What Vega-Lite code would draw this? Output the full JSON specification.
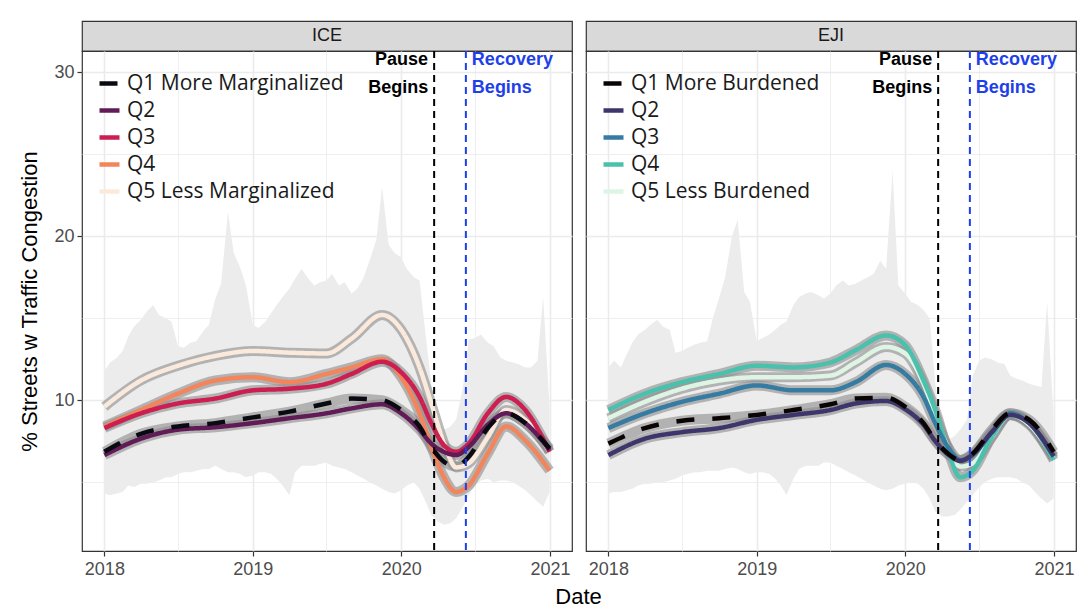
{
"$schema": "https://vega.github.io/schema/vega-lite/v6.json",
"background": "white",
"padding": {"left": 18, "top": 20, "right": 8, "bottom": 4},
"config": {
  "font": "Liberation Sans",
  "view": {"stroke": "#333333", "strokeWidth": 1.2},
  "axis": {"gridColor": "#ebebeb", "domain": false, "tickColor": "#333333", "tickSize": 5, "tickWidth": 1.2, "labelColor": "#4d4d4d", "labelFontSize": 18, "labelFont": "Liberation Sans", "titleFont": "Liberation Sans", "titleFontSize": 22, "titleFontWeight": "normal", "titleColor": "#000000"},
  "legend": {"labelLimit": 400},
  "title": {"font": "Liberation Sans", "fontSize": 22, "fontWeight": "normal", "color": "#000000"}
},
"title": {"text": "Date", "orient": "bottom", "anchor": "middle", "offset": 8, "dx": 31},
"datasets": {
  "events": [{"d": "2020-03-22", "k": "pause"}, {"d": "2020-06-08", "k": "rec"}],
  "labels": [
    {"d": "2020-03-22", "k": "pause", "t": "Pause", "v": 30.75},
    {"d": "2020-03-22", "k": "pause", "t": "Begins", "v": 29.05},
    {"d": "2020-06-08", "k": "rec", "t": "Recovery", "v": 30.75},
    {"d": "2020-06-08", "k": "rec", "t": "Begins", "v": 29.05}
  ],
  "curves": [
    {"p":"ICE","q":"Q5","d":"2018-01-01","v":9.6},{"p":"ICE","q":"Q5","d":"2018-04-01","v":11.2},{"p":"ICE","q":"Q5","d":"2018-07-01","v":12.1},{"p":"ICE","q":"Q5","d":"2018-10-01","v":12.7},{"p":"ICE","q":"Q5","d":"2019-01-01","v":13.0},{"p":"ICE","q":"Q5","d":"2019-04-01","v":12.9},{"p":"ICE","q":"Q5","d":"2019-07-01","v":12.85},{"p":"ICE","q":"Q5","d":"2019-09-01","v":13.75},{"p":"ICE","q":"Q5","d":"2019-11-15","v":15.2},{"p":"ICE","q":"Q5","d":"2020-01-01","v":14.3},{"p":"ICE","q":"Q5","d":"2020-02-15","v":12.0},{"p":"ICE","q":"Q5","d":"2020-03-15","v":9.8},{"p":"ICE","q":"Q5","d":"2020-04-15","v":7.4},{"p":"ICE","q":"Q5","d":"2020-05-15","v":5.9},{"p":"ICE","q":"Q5","d":"2020-06-15","v":6.15},{"p":"ICE","q":"Q5","d":"2020-08-01","v":7.75},{"p":"ICE","q":"Q5","d":"2020-09-15","v":9.4},{"p":"ICE","q":"Q5","d":"2020-11-01","v":8.8},{"p":"ICE","q":"Q5","d":"2020-12-31","v":6.85},
    {"p":"ICE","q":"Q4","d":"2018-01-01","v":8.4},{"p":"ICE","q":"Q4","d":"2018-04-01","v":9.4},{"p":"ICE","q":"Q4","d":"2018-07-01","v":10.4},{"p":"ICE","q":"Q4","d":"2018-10-01","v":11.2},{"p":"ICE","q":"Q4","d":"2019-01-01","v":11.4},{"p":"ICE","q":"Q4","d":"2019-04-01","v":11.1},{"p":"ICE","q":"Q4","d":"2019-07-01","v":11.6},{"p":"ICE","q":"Q4","d":"2019-09-01","v":12.0},{"p":"ICE","q":"Q4","d":"2019-11-15","v":12.5},{"p":"ICE","q":"Q4","d":"2020-01-01","v":11.4},{"p":"ICE","q":"Q4","d":"2020-02-15","v":9.2},{"p":"ICE","q":"Q4","d":"2020-03-15","v":7.15},{"p":"ICE","q":"Q4","d":"2020-04-15","v":5.3},{"p":"ICE","q":"Q4","d":"2020-05-15","v":4.4},{"p":"ICE","q":"Q4","d":"2020-06-15","v":4.8},{"p":"ICE","q":"Q4","d":"2020-08-01","v":6.75},{"p":"ICE","q":"Q4","d":"2020-09-15","v":8.4},{"p":"ICE","q":"Q4","d":"2020-11-01","v":7.55},{"p":"ICE","q":"Q4","d":"2020-12-31","v":5.7},
    {"p":"ICE","q":"Q3","d":"2018-01-01","v":8.3},{"p":"ICE","q":"Q3","d":"2018-04-01","v":9.2},{"p":"ICE","q":"Q3","d":"2018-07-01","v":9.8},{"p":"ICE","q":"Q3","d":"2018-10-01","v":10.1},{"p":"ICE","q":"Q3","d":"2019-01-01","v":10.6},{"p":"ICE","q":"Q3","d":"2019-04-01","v":10.7},{"p":"ICE","q":"Q3","d":"2019-07-01","v":11.0},{"p":"ICE","q":"Q3","d":"2019-09-01","v":11.6},{"p":"ICE","q":"Q3","d":"2019-11-15","v":12.35},{"p":"ICE","q":"Q3","d":"2020-01-01","v":11.7},{"p":"ICE","q":"Q3","d":"2020-02-15","v":10.2},{"p":"ICE","q":"Q3","d":"2020-03-15","v":8.6},{"p":"ICE","q":"Q3","d":"2020-04-15","v":7.25},{"p":"ICE","q":"Q3","d":"2020-05-15","v":6.85},{"p":"ICE","q":"Q3","d":"2020-06-15","v":7.35},{"p":"ICE","q":"Q3","d":"2020-08-01","v":9.2},{"p":"ICE","q":"Q3","d":"2020-09-15","v":10.2},{"p":"ICE","q":"Q3","d":"2020-11-01","v":9.4},{"p":"ICE","q":"Q3","d":"2020-12-31","v":6.85},
    {"p":"ICE","q":"Q2","d":"2018-01-01","v":6.65},{"p":"ICE","q":"Q2","d":"2018-04-01","v":7.65},{"p":"ICE","q":"Q2","d":"2018-07-01","v":8.2},{"p":"ICE","q":"Q2","d":"2018-10-01","v":8.35},{"p":"ICE","q":"Q2","d":"2019-01-01","v":8.6},{"p":"ICE","q":"Q2","d":"2019-04-01","v":8.9},{"p":"ICE","q":"Q2","d":"2019-07-01","v":9.2},{"p":"ICE","q":"Q2","d":"2019-09-01","v":9.5},{"p":"ICE","q":"Q2","d":"2019-11-15","v":9.75},{"p":"ICE","q":"Q2","d":"2020-01-01","v":9.2},{"p":"ICE","q":"Q2","d":"2020-02-15","v":8.2},{"p":"ICE","q":"Q2","d":"2020-03-15","v":7.35},{"p":"ICE","q":"Q2","d":"2020-04-15","v":6.85},{"p":"ICE","q":"Q2","d":"2020-05-15","v":6.65},{"p":"ICE","q":"Q2","d":"2020-06-15","v":7.15},{"p":"ICE","q":"Q2","d":"2020-08-01","v":8.5},{"p":"ICE","q":"Q2","d":"2020-09-15","v":9.2},{"p":"ICE","q":"Q2","d":"2020-11-01","v":8.6},{"p":"ICE","q":"Q2","d":"2020-12-31","v":6.95},
    {"p":"ICE","q":"Q1","d":"2018-01-01","v":6.85},{"p":"ICE","q":"Q1","d":"2018-04-01","v":7.95},{"p":"ICE","q":"Q1","d":"2018-07-01","v":8.4},{"p":"ICE","q":"Q1","d":"2018-10-01","v":8.6},{"p":"ICE","q":"Q1","d":"2019-01-01","v":8.95},{"p":"ICE","q":"Q1","d":"2019-04-01","v":9.3},{"p":"ICE","q":"Q1","d":"2019-07-01","v":9.8},{"p":"ICE","q":"Q1","d":"2019-09-01","v":10.1},{"p":"ICE","q":"Q1","d":"2019-11-15","v":10.0},{"p":"ICE","q":"Q1","d":"2020-01-01","v":9.4},{"p":"ICE","q":"Q1","d":"2020-02-15","v":8.4},{"p":"ICE","q":"Q1","d":"2020-03-15","v":7.15},{"p":"ICE","q":"Q1","d":"2020-04-15","v":6.25},{"p":"ICE","q":"Q1","d":"2020-05-15","v":5.95},{"p":"ICE","q":"Q1","d":"2020-06-15","v":6.55},{"p":"ICE","q":"Q1","d":"2020-08-01","v":8.3},{"p":"ICE","q":"Q1","d":"2020-09-15","v":9.2},{"p":"ICE","q":"Q1","d":"2020-11-01","v":8.6},{"p":"ICE","q":"Q1","d":"2020-12-31","v":7.05},
    {"p":"EJI","q":"Q5","d":"2018-01-01","v":8.9},{"p":"EJI","q":"Q5","d":"2018-04-01","v":9.9},{"p":"EJI","q":"Q5","d":"2018-07-01","v":10.7},{"p":"EJI","q":"Q5","d":"2018-10-01","v":11.2},{"p":"EJI","q":"Q5","d":"2019-01-01","v":11.4},{"p":"EJI","q":"Q5","d":"2019-04-01","v":11.4},{"p":"EJI","q":"Q5","d":"2019-07-01","v":11.5},{"p":"EJI","q":"Q5","d":"2019-09-01","v":12.3},{"p":"EJI","q":"Q5","d":"2019-11-15","v":13.25},{"p":"EJI","q":"Q5","d":"2020-01-01","v":12.85},{"p":"EJI","q":"Q5","d":"2020-02-15","v":11.0},{"p":"EJI","q":"Q5","d":"2020-03-15","v":9.1},{"p":"EJI","q":"Q5","d":"2020-04-15","v":7.15},{"p":"EJI","q":"Q5","d":"2020-05-15","v":5.95},{"p":"EJI","q":"Q5","d":"2020-06-15","v":6.15},{"p":"EJI","q":"Q5","d":"2020-08-01","v":7.75},{"p":"EJI","q":"Q5","d":"2020-09-15","v":9.1},{"p":"EJI","q":"Q5","d":"2020-11-01","v":8.5},{"p":"EJI","q":"Q5","d":"2020-12-31","v":6.45},
    {"p":"EJI","q":"Q4","d":"2018-01-01","v":9.4},{"p":"EJI","q":"Q4","d":"2018-04-01","v":10.4},{"p":"EJI","q":"Q4","d":"2018-07-01","v":11.1},{"p":"EJI","q":"Q4","d":"2018-10-01","v":11.6},{"p":"EJI","q":"Q4","d":"2019-01-01","v":12.1},{"p":"EJI","q":"Q4","d":"2019-04-01","v":12.0},{"p":"EJI","q":"Q4","d":"2019-07-01","v":12.3},{"p":"EJI","q":"Q4","d":"2019-09-01","v":13.05},{"p":"EJI","q":"Q4","d":"2019-11-15","v":13.95},{"p":"EJI","q":"Q4","d":"2020-01-01","v":13.35},{"p":"EJI","q":"Q4","d":"2020-02-15","v":11.2},{"p":"EJI","q":"Q4","d":"2020-03-15","v":9.4},{"p":"EJI","q":"Q4","d":"2020-04-15","v":6.95},{"p":"EJI","q":"Q4","d":"2020-05-15","v":5.3},{"p":"EJI","q":"Q4","d":"2020-06-15","v":5.7},{"p":"EJI","q":"Q4","d":"2020-08-01","v":7.75},{"p":"EJI","q":"Q4","d":"2020-09-15","v":9.1},{"p":"EJI","q":"Q4","d":"2020-11-01","v":8.6},{"p":"EJI","q":"Q4","d":"2020-12-31","v":6.35},
    {"p":"EJI","q":"Q3","d":"2018-01-01","v":8.3},{"p":"EJI","q":"Q3","d":"2018-04-01","v":9.2},{"p":"EJI","q":"Q3","d":"2018-07-01","v":9.9},{"p":"EJI","q":"Q3","d":"2018-10-01","v":10.4},{"p":"EJI","q":"Q3","d":"2019-01-01","v":10.9},{"p":"EJI","q":"Q3","d":"2019-04-01","v":10.6},{"p":"EJI","q":"Q3","d":"2019-07-01","v":10.6},{"p":"EJI","q":"Q3","d":"2019-09-01","v":11.1},{"p":"EJI","q":"Q3","d":"2019-11-15","v":12.15},{"p":"EJI","q":"Q3","d":"2020-01-01","v":11.6},{"p":"EJI","q":"Q3","d":"2020-02-15","v":10.2},{"p":"EJI","q":"Q3","d":"2020-03-15","v":8.6},{"p":"EJI","q":"Q3","d":"2020-04-15","v":7.15},{"p":"EJI","q":"Q3","d":"2020-05-15","v":6.35},{"p":"EJI","q":"Q3","d":"2020-06-15","v":6.65},{"p":"EJI","q":"Q3","d":"2020-08-01","v":8.05},{"p":"EJI","q":"Q3","d":"2020-09-15","v":9.2},{"p":"EJI","q":"Q3","d":"2020-11-01","v":8.6},{"p":"EJI","q":"Q3","d":"2020-12-31","v":6.55},
    {"p":"EJI","q":"Q2","d":"2018-01-01","v":6.65},{"p":"EJI","q":"Q2","d":"2018-04-01","v":7.65},{"p":"EJI","q":"Q2","d":"2018-07-01","v":8.05},{"p":"EJI","q":"Q2","d":"2018-10-01","v":8.3},{"p":"EJI","q":"Q2","d":"2019-01-01","v":8.8},{"p":"EJI","q":"Q2","d":"2019-04-01","v":9.1},{"p":"EJI","q":"Q2","d":"2019-07-01","v":9.4},{"p":"EJI","q":"Q2","d":"2019-09-01","v":9.8},{"p":"EJI","q":"Q2","d":"2019-11-15","v":9.95},{"p":"EJI","q":"Q2","d":"2020-01-01","v":9.45},{"p":"EJI","q":"Q2","d":"2020-02-15","v":8.5},{"p":"EJI","q":"Q2","d":"2020-03-15","v":7.5},{"p":"EJI","q":"Q2","d":"2020-04-15","v":6.7},{"p":"EJI","q":"Q2","d":"2020-05-15","v":6.3},{"p":"EJI","q":"Q2","d":"2020-06-15","v":6.7},{"p":"EJI","q":"Q2","d":"2020-08-01","v":8.05},{"p":"EJI","q":"Q2","d":"2020-09-15","v":9.1},{"p":"EJI","q":"Q2","d":"2020-11-01","v":8.6},{"p":"EJI","q":"Q2","d":"2020-12-31","v":6.6},
    {"p":"EJI","q":"Q1","d":"2018-01-01","v":7.35},{"p":"EJI","q":"Q1","d":"2018-04-01","v":8.3},{"p":"EJI","q":"Q1","d":"2018-07-01","v":8.75},{"p":"EJI","q":"Q1","d":"2018-10-01","v":8.9},{"p":"EJI","q":"Q1","d":"2019-01-01","v":9.1},{"p":"EJI","q":"Q1","d":"2019-04-01","v":9.4},{"p":"EJI","q":"Q1","d":"2019-07-01","v":9.75},{"p":"EJI","q":"Q1","d":"2019-09-01","v":10.1},{"p":"EJI","q":"Q1","d":"2019-11-15","v":10.15},{"p":"EJI","q":"Q1","d":"2020-01-01","v":9.6},{"p":"EJI","q":"Q1","d":"2020-02-15","v":8.6},{"p":"EJI","q":"Q1","d":"2020-03-15","v":7.55},{"p":"EJI","q":"Q1","d":"2020-04-15","v":6.75},{"p":"EJI","q":"Q1","d":"2020-05-15","v":6.35},{"p":"EJI","q":"Q1","d":"2020-06-15","v":6.75},{"p":"EJI","q":"Q1","d":"2020-08-01","v":8.2},{"p":"EJI","q":"Q1","d":"2020-09-15","v":9.2},{"p":"EJI","q":"Q1","d":"2020-11-01","v":8.8},{"p":"EJI","q":"Q1","d":"2020-12-31","v":6.85}
  ],
  "noise": [
    {"p":"ICE","d":"2018-01-01","lo":4.3,"hi":11.8},{"p":"ICE","d":"2018-01-15","lo":4.2,"hi":12.3},{"p":"ICE","d":"2018-02-01","lo":4.3,"hi":12.6},{"p":"ICE","d":"2018-02-15","lo":4.4,"hi":13.0},{"p":"ICE","d":"2018-03-01","lo":4.8,"hi":13.9},{"p":"ICE","d":"2018-03-15","lo":4.7,"hi":14.5},{"p":"ICE","d":"2018-04-01","lo":4.9,"hi":14.9},{"p":"ICE","d":"2018-04-15","lo":4.9,"hi":15.4},{"p":"ICE","d":"2018-05-01","lo":5.0,"hi":15.8},{"p":"ICE","d":"2018-05-15","lo":5.1,"hi":15.2},{"p":"ICE","d":"2018-06-01","lo":5.3,"hi":15.0},{"p":"ICE","d":"2018-06-15","lo":5.3,"hi":14.8},
    {"p":"ICE","d":"2018-07-01","lo":5.5,"hi":13.3},{"p":"ICE","d":"2018-07-15","lo":5.6,"hi":13.2},{"p":"ICE","d":"2018-08-01","lo":5.6,"hi":13.5},{"p":"ICE","d":"2018-08-15","lo":5.7,"hi":13.6},{"p":"ICE","d":"2018-09-01","lo":5.8,"hi":14.2},{"p":"ICE","d":"2018-09-15","lo":5.8,"hi":14.6},{"p":"ICE","d":"2018-10-01","lo":6.0,"hi":16.2},{"p":"ICE","d":"2018-10-15","lo":5.8,"hi":17.1},{"p":"ICE","d":"2018-11-01","lo":5.6,"hi":21.5},{"p":"ICE","d":"2018-11-15","lo":5.6,"hi":19.0},{"p":"ICE","d":"2018-12-01","lo":5.5,"hi":18.1},{"p":"ICE","d":"2018-12-15","lo":5.3,"hi":17.0},
    {"p":"ICE","d":"2019-01-01","lo":5.4,"hi":14.6},{"p":"ICE","d":"2019-01-15","lo":5.6,"hi":14.4},{"p":"ICE","d":"2019-02-01","lo":5.6,"hi":14.8},{"p":"ICE","d":"2019-02-15","lo":5.5,"hi":15.3},{"p":"ICE","d":"2019-03-01","lo":5.2,"hi":15.8},{"p":"ICE","d":"2019-03-15","lo":4.8,"hi":16.3},{"p":"ICE","d":"2019-04-01","lo":4.2,"hi":16.8},{"p":"ICE","d":"2019-04-15","lo":5.6,"hi":17.4},{"p":"ICE","d":"2019-05-01","lo":6.0,"hi":18.0},{"p":"ICE","d":"2019-05-15","lo":6.0,"hi":17.5},{"p":"ICE","d":"2019-06-01","lo":6.0,"hi":17.0},{"p":"ICE","d":"2019-06-15","lo":6.1,"hi":17.2},
    {"p":"ICE","d":"2019-07-01","lo":6.2,"hi":17.3},{"p":"ICE","d":"2019-07-15","lo":6.0,"hi":17.7},{"p":"ICE","d":"2019-08-01","lo":5.9,"hi":17.0},{"p":"ICE","d":"2019-08-15","lo":5.8,"hi":17.2},{"p":"ICE","d":"2019-09-01","lo":5.6,"hi":16.5},{"p":"ICE","d":"2019-09-15","lo":5.4,"hi":16.8},{"p":"ICE","d":"2019-10-01","lo":5.2,"hi":17.5},{"p":"ICE","d":"2019-10-15","lo":5.0,"hi":18.5},{"p":"ICE","d":"2019-11-01","lo":4.8,"hi":19.8},{"p":"ICE","d":"2019-11-15","lo":4.6,"hi":23.0},{"p":"ICE","d":"2019-12-01","lo":4.4,"hi":19.5},{"p":"ICE","d":"2019-12-15","lo":4.3,"hi":19.0},
    {"p":"ICE","d":"2020-01-01","lo":4.5,"hi":18.7},{"p":"ICE","d":"2020-01-15","lo":4.8,"hi":18.0},{"p":"ICE","d":"2020-02-01","lo":5.0,"hi":17.5},{"p":"ICE","d":"2020-02-15","lo":4.6,"hi":17.3},{"p":"ICE","d":"2020-03-01","lo":3.8,"hi":14.0},{"p":"ICE","d":"2020-03-15","lo":3.0,"hi":11.0},{"p":"ICE","d":"2020-04-01","lo":2.6,"hi":8.6},{"p":"ICE","d":"2020-04-15","lo":2.4,"hi":8.2},{"p":"ICE","d":"2020-05-01","lo":2.5,"hi":8.4},{"p":"ICE","d":"2020-05-15","lo":2.8,"hi":8.8},{"p":"ICE","d":"2020-06-01","lo":3.5,"hi":10.8},{"p":"ICE","d":"2020-06-15","lo":4.2,"hi":13.7},
    {"p":"ICE","d":"2020-07-01","lo":4.8,"hi":13.8},{"p":"ICE","d":"2020-07-15","lo":5.1,"hi":14.0},{"p":"ICE","d":"2020-08-01","lo":5.2,"hi":13.5},{"p":"ICE","d":"2020-08-15","lo":5.0,"hi":13.3},{"p":"ICE","d":"2020-09-01","lo":5.1,"hi":12.6},{"p":"ICE","d":"2020-09-15","lo":5.1,"hi":12.4},{"p":"ICE","d":"2020-10-01","lo":5.0,"hi":12.3},{"p":"ICE","d":"2020-10-15","lo":4.8,"hi":12.2},{"p":"ICE","d":"2020-11-01","lo":4.5,"hi":12.0},{"p":"ICE","d":"2020-11-15","lo":4.2,"hi":12.0},{"p":"ICE","d":"2020-12-01","lo":3.8,"hi":12.4},{"p":"ICE","d":"2020-12-15","lo":3.5,"hi":16.3},{"p":"ICE","d":"2020-12-31","lo":4.4,"hi":9.5},
    {"p":"EJI","d":"2018-01-01","lo":4.3,"hi":12.0},{"p":"EJI","d":"2018-01-15","lo":4.4,"hi":12.4},{"p":"EJI","d":"2018-02-01","lo":4.4,"hi":12.0},{"p":"EJI","d":"2018-02-15","lo":4.5,"hi":12.8},{"p":"EJI","d":"2018-03-01","lo":4.6,"hi":13.5},{"p":"EJI","d":"2018-03-15","lo":4.8,"hi":14.0},{"p":"EJI","d":"2018-04-01","lo":4.9,"hi":14.3},{"p":"EJI","d":"2018-04-15","lo":4.9,"hi":14.6},{"p":"EJI","d":"2018-05-01","lo":5.0,"hi":14.9},{"p":"EJI","d":"2018-05-15","lo":5.0,"hi":14.5},{"p":"EJI","d":"2018-06-01","lo":5.1,"hi":14.3},{"p":"EJI","d":"2018-06-15","lo":5.2,"hi":12.9},
    {"p":"EJI","d":"2018-07-01","lo":5.4,"hi":13.0},{"p":"EJI","d":"2018-07-15","lo":5.5,"hi":13.2},{"p":"EJI","d":"2018-08-01","lo":5.6,"hi":13.4},{"p":"EJI","d":"2018-08-15","lo":5.6,"hi":13.5},{"p":"EJI","d":"2018-09-01","lo":5.7,"hi":13.6},{"p":"EJI","d":"2018-09-15","lo":5.7,"hi":15.0},{"p":"EJI","d":"2018-10-01","lo":5.7,"hi":16.3},{"p":"EJI","d":"2018-10-15","lo":5.8,"hi":17.5},{"p":"EJI","d":"2018-11-01","lo":5.9,"hi":20.0},{"p":"EJI","d":"2018-11-15","lo":5.8,"hi":21.0},{"p":"EJI","d":"2018-12-01","lo":5.6,"hi":16.6},{"p":"EJI","d":"2018-12-15","lo":5.5,"hi":16.0},
    {"p":"EJI","d":"2019-01-01","lo":5.6,"hi":13.6},{"p":"EJI","d":"2019-01-15","lo":5.6,"hi":13.8},{"p":"EJI","d":"2019-02-01","lo":5.5,"hi":14.0},{"p":"EJI","d":"2019-02-15","lo":5.2,"hi":14.3},{"p":"EJI","d":"2019-03-01","lo":4.8,"hi":14.6},{"p":"EJI","d":"2019-03-15","lo":4.2,"hi":14.8},{"p":"EJI","d":"2019-04-01","lo":5.2,"hi":15.8},{"p":"EJI","d":"2019-04-15","lo":5.8,"hi":16.3},{"p":"EJI","d":"2019-05-01","lo":6.0,"hi":16.5},{"p":"EJI","d":"2019-05-15","lo":6.0,"hi":16.6},{"p":"EJI","d":"2019-06-01","lo":6.0,"hi":16.4},{"p":"EJI","d":"2019-06-15","lo":6.2,"hi":16.2},
    {"p":"EJI","d":"2019-07-01","lo":6.2,"hi":16.5},{"p":"EJI","d":"2019-07-15","lo":6.0,"hi":17.0},{"p":"EJI","d":"2019-08-01","lo":5.8,"hi":17.3},{"p":"EJI","d":"2019-08-15","lo":5.6,"hi":17.0},{"p":"EJI","d":"2019-09-01","lo":5.4,"hi":17.1},{"p":"EJI","d":"2019-09-15","lo":5.2,"hi":17.3},{"p":"EJI","d":"2019-10-01","lo":5.0,"hi":17.5},{"p":"EJI","d":"2019-10-15","lo":4.8,"hi":17.7},{"p":"EJI","d":"2019-11-01","lo":4.6,"hi":18.5},{"p":"EJI","d":"2019-11-15","lo":4.5,"hi":18.0},{"p":"EJI","d":"2019-12-01","lo":4.6,"hi":24.0},{"p":"EJI","d":"2019-12-15","lo":4.8,"hi":17.0},
    {"p":"EJI","d":"2020-01-01","lo":4.9,"hi":16.5},{"p":"EJI","d":"2020-01-15","lo":5.0,"hi":16.0},{"p":"EJI","d":"2020-02-01","lo":4.9,"hi":15.8},{"p":"EJI","d":"2020-02-15","lo":4.6,"hi":15.5},{"p":"EJI","d":"2020-03-01","lo":4.0,"hi":15.0},{"p":"EJI","d":"2020-03-15","lo":3.2,"hi":11.0},{"p":"EJI","d":"2020-04-01","lo":2.9,"hi":7.8},{"p":"EJI","d":"2020-04-15","lo":2.9,"hi":7.6},{"p":"EJI","d":"2020-05-01","lo":3.0,"hi":7.8},{"p":"EJI","d":"2020-05-15","lo":3.3,"hi":8.2},{"p":"EJI","d":"2020-06-01","lo":3.8,"hi":8.8},{"p":"EJI","d":"2020-06-15","lo":4.2,"hi":11.5},
    {"p":"EJI","d":"2020-07-01","lo":4.7,"hi":12.4},{"p":"EJI","d":"2020-07-15","lo":5.0,"hi":12.6},{"p":"EJI","d":"2020-08-01","lo":5.2,"hi":12.5},{"p":"EJI","d":"2020-08-15","lo":5.3,"hi":12.3},{"p":"EJI","d":"2020-09-01","lo":5.3,"hi":12.2},{"p":"EJI","d":"2020-09-15","lo":5.3,"hi":11.5},{"p":"EJI","d":"2020-10-01","lo":5.2,"hi":11.3},{"p":"EJI","d":"2020-10-15","lo":5.0,"hi":11.2},{"p":"EJI","d":"2020-11-01","lo":4.8,"hi":11.0},{"p":"EJI","d":"2020-11-15","lo":4.4,"hi":10.9},{"p":"EJI","d":"2020-12-01","lo":4.0,"hi":10.8},{"p":"EJI","d":"2020-12-15","lo":3.7,"hi":16.0},{"p":"EJI","d":"2020-12-31","lo":4.0,"hi":9.0}
  ]
},
"spacing": 12,
"resolve": {"scale": {"color": "independent", "strokeDash": "independent", "x": "independent", "y": "independent"}, "legend": {"color": "independent", "strokeDash": "independent"}},
"hconcat": [
  {
    "vconcat": [
      {"width": 490, "height": 30, "data": {"values": [{"s": "ICE"}]}, "mark": {"type": "text", "fontSize": 18, "color": "#1a1a1a", "font": "Liberation Sans"}, "encoding": {"text": {"field": "s"}}, "view": {"fill": "#d9d9d9", "stroke": "#333333", "strokeWidth": 1.2}},
      {
        "width": 490, "height": 500,
        "encoding": {"x": {"field": "d", "type": "temporal", "title": null, "scale": {"type": "utc", "domain": [{"year": 2017, "month": 11, "date": 7, "utc": true}, {"year": 2021, "month": 2, "date": 24, "utc": true}]}, "axis": {"values": [{"year": 2018, "month": 1, "date": 1, "utc": true}, {"year": 2018, "month": 7, "date": 1, "utc": true}, {"year": 2019, "month": 1, "date": 1, "utc": true}, {"year": 2019, "month": 7, "date": 1, "utc": true}, {"year": 2020, "month": 1, "date": 1, "utc": true}, {"year": 2020, "month": 7, "date": 1, "utc": true}, {"year": 2021, "month": 1, "date": 1, "utc": true}], "labelExpr": "utcmonth(datum.value) === 0 ? utcFormat(datum.value, '%Y') : ''", "tickOpacity": {"condition": {"test": "utcmonth(datum.value) === 0", "value": 1}, "value": 0}, "gridWidth": {"condition": {"test": "utcmonth(datum.value) === 0", "value": 1.6}, "value": 0.8}, "labelPadding": 4}}},
        "layer": [
          {"data": {"name": "noise"}, "transform": [{"filter": "datum.p === 'ICE'"}], "mark": {"type": "area", "color": "#ececec"},
           "encoding": {"y": {"field": "lo", "type": "quantitative", "title": "% Streets w Traffic Congestion", "scale": {"domain": [0.8, 31.3], "nice": false, "zero": false}, "axis": {"values": [5, 10, 15, 20, 25, 30], "labelExpr": "datum.value % 10 === 0 ? datum.label : ''", "tickOpacity": {"condition": {"test": "datum.value % 10 === 0", "value": 1}, "value": 0}, "gridWidth": {"condition": {"test": "datum.value % 10 === 0", "value": 1.6}, "value": 0.8}, "titlePadding": 12, "labelPadding": 3}}, "y2": {"field": "hi"}}},
          {"data": {"name": "curves"}, "transform": [{"filter": "datum.p === 'ICE'"}], "mark": {"type": "line", "interpolate": "monotone", "strokeWidth": 10, "color": "#8c8c8c", "opacity": 0.6},
           "encoding": {"y": {"field": "v", "type": "quantitative", "title": "% Streets w Traffic Congestion", "scale": {"domain": [0.8, 31.3], "nice": false, "zero": false}}, "detail": {"field": "q"}}},
          {"data": {"name": "curves"}, "transform": [{"filter": "datum.p === 'ICE'"}], "mark": {"type": "line", "interpolate": "monotone", "strokeWidth": 4.5},
           "encoding": {"y": {"field": "v", "type": "quantitative", "title": "% Streets w Traffic Congestion", "scale": {"domain": [0.8, 31.3], "nice": false, "zero": false}},
             "color": {"field": "q", "type": "nominal", "scale": {"domain": ["Q1", "Q2", "Q3", "Q4", "Q5"], "range": ["#0a0a12", "#611c57", "#cc1e50", "#f2855c", "#fbeadc"]}, "legend": {"orient": "none", "legendX": 15, "legendY": 50, "title": null, "labelExpr": "datum.label === 'Q1' ? 'Q1 More Marginalized' : datum.label === 'Q5' ? 'Q5 Less Marginalized' : datum.label", "symbolType": "stroke", "symbolStrokeWidth": 4.5, "symbolSize": 400, "labelFontSize": 21, "labelFont": "Open Sans", "labelColor": "#1a1a1a", "rowPadding": 4, "labelOffset": 5, "labelLimit": 400, "padding": 0}},
             "strokeDash": {"field": "q", "type": "nominal", "scale": {"domain": ["Q1", "Q2", "Q3", "Q4", "Q5"], "range": [[18, 18], [1, 0], [1, 0], [1, 0], [1, 0]]}, "legend": {"orient": "none", "legendX": 15, "legendY": 50, "title": null, "labelExpr": "datum.label === 'Q1' ? 'Q1 More Marginalized' : datum.label === 'Q5' ? 'Q5 Less Marginalized' : datum.label", "symbolType": "stroke", "symbolStrokeWidth": 4.5, "symbolSize": 400, "labelFontSize": 21, "labelFont": "Open Sans", "labelColor": "#1a1a1a", "rowPadding": 4, "labelOffset": 5, "labelLimit": 400, "padding": 0}}}},
          {"data": {"name": "events"}, "mark": {"type": "rule", "strokeDash": [7, 5], "strokeWidth": 2},
           "encoding": {"color": {"condition": {"test": "datum.k === 'pause'", "value": "#000000"}, "value": "#1e40ea"}}},
          {"data": {"name": "labels"}, "transform": [{"filter": "datum.k === 'pause'"}], "mark": {"type": "text", "align": "right", "dx": -6, "fontWeight": "bold", "fontSize": 18, "font": "Liberation Sans", "color": "#000000"},
           "encoding": {"y": {"field": "v", "type": "quantitative", "title": "% Streets w Traffic Congestion", "scale": {"domain": [0.8, 31.3], "nice": false, "zero": false}}, "text": {"field": "t"}}},
          {"data": {"name": "labels"}, "transform": [{"filter": "datum.k === 'rec'"}], "mark": {"type": "text", "align": "left", "dx": 6, "fontWeight": "bold", "fontSize": 18, "font": "Liberation Sans", "color": "#1e40ea"},
           "encoding": {"y": {"field": "v", "type": "quantitative", "title": "% Streets w Traffic Congestion", "scale": {"domain": [0.8, 31.3], "nice": false, "zero": false}}, "text": {"field": "t"}}}
        ]
      }
    ],
    "spacing": 0,
    "bounds": "flush"
  },
  {
    "vconcat": [
      {"width": 490, "height": 30, "data": {"values": [{"s": "EJI"}]}, "mark": {"type": "text", "fontSize": 18, "color": "#1a1a1a", "font": "Liberation Sans"}, "encoding": {"text": {"field": "s"}}, "view": {"fill": "#d9d9d9", "stroke": "#333333", "strokeWidth": 1.2}},
      {
        "width": 490, "height": 500,
        "encoding": {"x": {"field": "d", "type": "temporal", "title": null, "scale": {"type": "utc", "domain": [{"year": 2017, "month": 11, "date": 7, "utc": true}, {"year": 2021, "month": 2, "date": 24, "utc": true}]}, "axis": {"values": [{"year": 2018, "month": 1, "date": 1, "utc": true}, {"year": 2018, "month": 7, "date": 1, "utc": true}, {"year": 2019, "month": 1, "date": 1, "utc": true}, {"year": 2019, "month": 7, "date": 1, "utc": true}, {"year": 2020, "month": 1, "date": 1, "utc": true}, {"year": 2020, "month": 7, "date": 1, "utc": true}, {"year": 2021, "month": 1, "date": 1, "utc": true}], "labelExpr": "utcmonth(datum.value) === 0 ? utcFormat(datum.value, '%Y') : ''", "tickOpacity": {"condition": {"test": "utcmonth(datum.value) === 0", "value": 1}, "value": 0}, "gridWidth": {"condition": {"test": "utcmonth(datum.value) === 0", "value": 1.6}, "value": 0.8}, "labelPadding": 4}}},
        "layer": [
          {"data": {"name": "noise"}, "transform": [{"filter": "datum.p === 'EJI'"}], "mark": {"type": "area", "color": "#ececec"},
           "encoding": {"y": {"field": "lo", "type": "quantitative", "title": null, "scale": {"domain": [0.8, 31.3], "nice": false, "zero": false}, "axis": {"values": [5, 10, 15, 20, 25, 30], "labels": false, "ticks": false, "gridWidth": {"condition": {"test": "datum.value % 10 === 0", "value": 1.6}, "value": 0.8}}}, "y2": {"field": "hi"}}},
          {"data": {"name": "curves"}, "transform": [{"filter": "datum.p === 'EJI'"}], "mark": {"type": "line", "interpolate": "monotone", "strokeWidth": 10, "color": "#8c8c8c", "opacity": 0.6},
           "encoding": {"y": {"field": "v", "type": "quantitative", "title": null, "scale": {"domain": [0.8, 31.3], "nice": false, "zero": false}}, "detail": {"field": "q"}}},
          {"data": {"name": "curves"}, "transform": [{"filter": "datum.p === 'EJI'"}], "mark": {"type": "line", "interpolate": "monotone", "strokeWidth": 4.5},
           "encoding": {"y": {"field": "v", "type": "quantitative", "title": null, "scale": {"domain": [0.8, 31.3], "nice": false, "zero": false}},
             "color": {"field": "q", "type": "nominal", "scale": {"domain": ["Q1", "Q2", "Q3", "Q4", "Q5"], "range": ["#0b0405", "#3e356b", "#357ba2", "#49c1ad", "#def5e5"]}, "legend": {"orient": "none", "legendX": 15, "legendY": 50, "title": null, "labelExpr": "datum.label === 'Q1' ? 'Q1 More Burdened' : datum.label === 'Q5' ? 'Q5 Less Burdened' : datum.label", "symbolType": "stroke", "symbolStrokeWidth": 4.5, "symbolSize": 400, "labelFontSize": 21, "labelFont": "Open Sans", "labelColor": "#1a1a1a", "rowPadding": 4, "labelOffset": 5, "labelLimit": 400, "padding": 0}},
             "strokeDash": {"field": "q", "type": "nominal", "scale": {"domain": ["Q1", "Q2", "Q3", "Q4", "Q5"], "range": [[18, 18], [1, 0], [1, 0], [1, 0], [1, 0]]}, "legend": {"orient": "none", "legendX": 15, "legendY": 50, "title": null, "labelExpr": "datum.label === 'Q1' ? 'Q1 More Burdened' : datum.label === 'Q5' ? 'Q5 Less Burdened' : datum.label", "symbolType": "stroke", "symbolStrokeWidth": 4.5, "symbolSize": 400, "labelFontSize": 21, "labelFont": "Open Sans", "labelColor": "#1a1a1a", "rowPadding": 4, "labelOffset": 5, "labelLimit": 400, "padding": 0}}}},
          {"data": {"name": "events"}, "mark": {"type": "rule", "strokeDash": [7, 5], "strokeWidth": 2},
           "encoding": {"color": {"condition": {"test": "datum.k === 'pause'", "value": "#000000"}, "value": "#1e40ea"}}},
          {"data": {"name": "labels"}, "transform": [{"filter": "datum.k === 'pause'"}], "mark": {"type": "text", "align": "right", "dx": -6, "fontWeight": "bold", "fontSize": 18, "font": "Liberation Sans", "color": "#000000"},
           "encoding": {"y": {"field": "v", "type": "quantitative", "title": null, "scale": {"domain": [0.8, 31.3], "nice": false, "zero": false}}, "text": {"field": "t"}}},
          {"data": {"name": "labels"}, "transform": [{"filter": "datum.k === 'rec'"}], "mark": {"type": "text", "align": "left", "dx": 6, "fontWeight": "bold", "fontSize": 18, "font": "Liberation Sans", "color": "#1e40ea"},
           "encoding": {"y": {"field": "v", "type": "quantitative", "title": null, "scale": {"domain": [0.8, 31.3], "nice": false, "zero": false}}, "text": {"field": "t"}}}
        ]
      }
    ],
    "spacing": 0,
    "bounds": "flush"
  }
]
}
